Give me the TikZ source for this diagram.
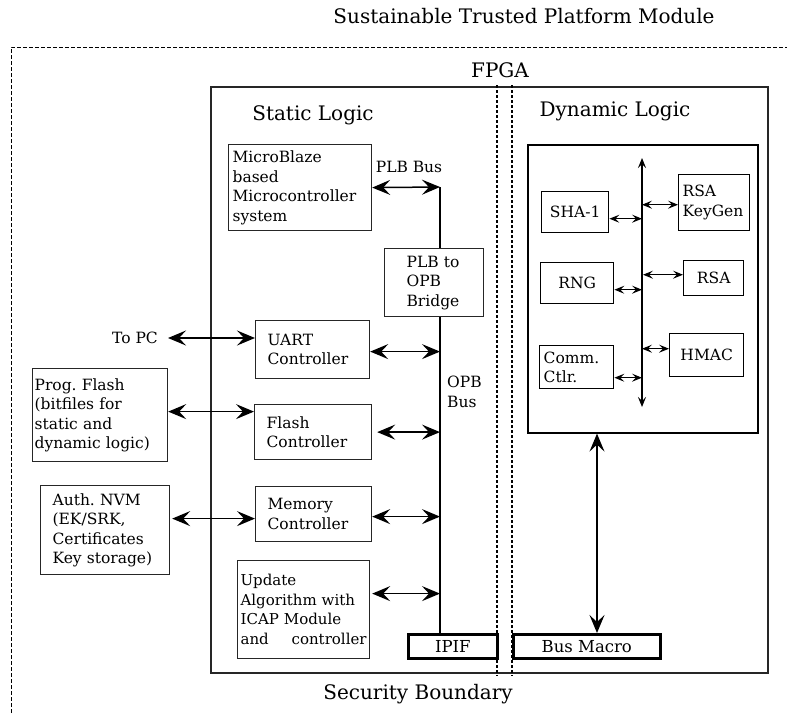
\documentclass[tikz,border=0pt]{standalone}
\usepackage{fontspec}
\setmainfont{DejaVu Serif}
\usetikzlibrary{arrows.meta}
\frenchspacing
\begin{document}
\begin{tikzpicture}[x=1pt,y=-1pt,
  box/.style={draw=black!85, line width=1.2pt, anchor=north west, align=left, inner sep=0pt,
    font=\fontsize{15.5}{19.5}\selectfont},
  dbox/.style={draw=black, line width=1.4pt, anchor=north west, align=center, inner sep=0pt,
    font=\fontsize{15.5}{19.5}\selectfont},
  thickbox/.style={draw=black, line width=2.6pt, anchor=north west, align=center, inner sep=0pt,
    font=\fontsize{16.5}{20}\selectfont},
  head/.style={font=\fontsize{20}{24}\selectfont, inner sep=0pt},
  lbl/.style={font=\fontsize{15.5}{20}\selectfont, inner sep=0pt, align=left},
  big/.style={line width=1.5pt, {Stealth[length=18pt,width=15pt,inset=7pt]}-{Stealth[length=18pt,width=15pt,inset=7pt]}},
  small/.style={line width=1pt, {Stealth[length=10pt,width=8pt,inset=4pt]}-{Stealth[length=10pt,width=8pt,inset=4pt]}},
  sep/.style={line width=2pt, dash pattern=on 3pt off 2pt},
]
\useasboundingbox (0,0) rectangle (787,713);

% titles
\node[head] (title) at (524,16) {Sustainable Trusted Platform Module};
\draw[line width=1pt, dash pattern=on 4pt off 2pt] (11,713) -- (11,47) -- (787,47);
\node[head] (fpgalbl) at (500,70) {FPGA};
\draw[line width=1.3pt, draw=black!85] (211,87) rectangle (768,673);
\draw[sep] (497,85) -- (497,676);
\draw[sep] (512,85) -- (512,676);
\node[head] (static) at (313,115) {Static Logic};
\node[head] (dynamic) at (615,111) {Dynamic Logic};
\node[head] (secb) at (418,694) {Security Boundary};

% static logic boxes
\node[box, minimum width=143, minimum height=86, text width=135, inner xsep=4] (mb) at (228,144) {MicroBlaze\\based\\Microcontroller\\system};
\node[lbl] (plb) at (409,167) {PLB Bus};
\node[box, minimum width=99, minimum height=68, text width=55, inner xsep=22] (bridge) at (384,248) {PLB to\\OPB\\Bridge};
\node[box, minimum width=114, minimum height=58, text width=90, inner xsep=12] (uart) at (255,320) {UART\\Controller};
\node[box, minimum width=117, minimum height=55, text width=93, inner xsep=12] (flash) at (254,404) {Flash\\Controller};
\node[box, minimum width=116, minimum height=55, text width=92, inner xsep=12] (mem) at (255,486) {Memory\\Controller};
\node[box, minimum width=132, minimum height=98, text width=126, inner xsep=3, font=\fontsize{15}{19.5}\selectfont] (upd) at (237,560) {Update\\Algorithm with\\ICAP Module\\\makebox[\linewidth][l]{and\hfill controller}};
\node[box, minimum width=135, minimum height=93, text width=131, inner xsep=2] (pf) at (32,368) {Prog. Flash\\(bitfiles for\\static and\\dynamic logic)};
\node[box, minimum width=129, minimum height=89, text width=105, inner xsep=12] (auth) at (40,485) {Auth. NVM\\(EK/SRK,\\Certificates\\Key storage)};
\node[lbl, anchor=east] (topc) at (158,338) {To PC};
\node[lbl, anchor=west] (opb) at (447,392) {OPB\\Bus};
\node[thickbox, minimum width=89, minimum height=24] (ipif) at (407,633) {IPIF};
\node[thickbox, minimum width=147, minimum height=24] (bm) at (512,633) {Bus Macro};

\coordinate (busx) at (440,187);
\draw[line width=1.5pt] (busx) -- (bridge.north -| busx);
\draw[line width=2.6pt] (bridge.south -| busx) -- (ipif.north -| busx);
\draw[big] (mb.east) -- (busx);
\draw[big] (topc.east) ++(10,0) coordinate (topcs) -- (topcs -| uart.west);
\draw[big] (uart.east) ++(0,2) coordinate (uarts) -- (uarts -| busx);
\draw[big] (pf.east) ++(0,-3.5) coordinate (pfs) -- (pfs -| flash.west);
\draw[big] ([xshift=5pt]flash.east) -- (flash.east -| busx);
\draw[big] ([xshift=2pt,yshift=11.5pt]auth.east) coordinate (auths) -- (auths -| uart.west);
\draw[big] (mem.east) ++(0,2.5) coordinate (mems) -- (mems -| busx);
\draw[big] ([xshift=2pt,yshift=16pt]upd.east) coordinate (upds) -- (upds -| busx);

% dynamic logic
\node[draw=black, line width=1.6pt, anchor=north west, minimum width=230, minimum height=288, inner sep=0pt] (dyn) at (527,144) {};
\coordinate (dtop) at (642,158);
\coordinate (dbot) at (642,407);
\draw[small, line width=1.1pt] (dtop) -- (dbot);
\node[dbox, minimum width=67, minimum height=41] (sha) at (541,191) {SHA-1};
\node[dbox, minimum width=71, minimum height=56, align=left, text width=63, inner xsep=4] (kg) at (678,174) {RSA\\KeyGen};
\node[dbox, minimum width=73, minimum height=41] (rng) at (540,262) {RNG};
\node[dbox, minimum width=60, minimum height=35] (rsa) at (683,260) {RSA};
\node[dbox, minimum width=74, minimum height=43, align=left, text width=66, inner xsep=4] (comm) at (539,345) {Comm.\\Ctlr.};
\node[dbox, minimum width=74, minimum height=43] (hmac) at (669,333) {HMAC};

\draw[small] ([yshift=-6.5pt]sha.east) coordinate (shas) -- (shas -| dtop);
\draw[small] ([yshift=-2pt]kg.west -| dtop) coordinate (kgs) -- (kgs -| kg.west);
\draw[small] ([yshift=-6.5pt]rng.east) coordinate (rngs) -- (rngs -| dtop);
\draw[small] ([yshift=3.5pt,xshift=1pt]rsa.west -| dtop) coordinate (rsas) -- (rsas -| rsa.west);
\draw[small] ([yshift=-10.5pt]comm.east) coordinate (comms) -- (comms -| dtop);
\draw[small] ([yshift=6.5pt]hmac.west -| dtop) coordinate (hmacs) -- (hmacs -| hmac.west);

\coordinate (bmx) at (597,433);
\draw[big, line width=1.4pt] (dyn.south -| bmx) -- (bm.north -| bmx);
\end{tikzpicture}
\end{document}
